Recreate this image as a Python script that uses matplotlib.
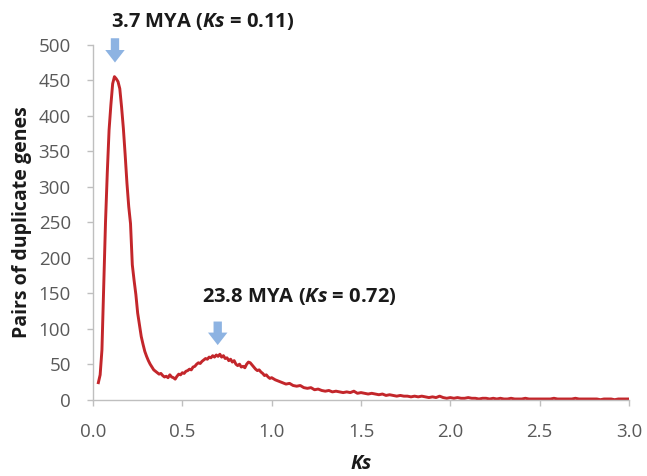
import numpy as np
import matplotlib
matplotlib.use("Agg")
import matplotlib.pyplot as plt

plt.rcParams['font.family'] = ['Open Sans', 'DejaVu Sans']
plt.rcParams['mathtext.fontset'] = 'custom'
plt.rcParams['mathtext.it'] = 'Open Sans:bold:italic'
plt.rcParams['mathtext.rm'] = 'Open Sans:bold'

# Ks grid (fine part 0.03-1.00 step 0.01, coarse part 1.02-3.00 step 0.02)
ks_fine = np.round(np.arange(0.03, 1.001, 0.01), 2)
pairs_fine = [24, 35, 70, 160, 250, 320, 380, 415, 445, 455,
              452, 448, 438, 412, 382, 345, 305, 272, 248, 190,
              168, 148, 122, 106, 89, 78, 68, 61, 55, 50,
              46, 42, 40, 38, 36, 37, 34, 32, 33, 31,
              35, 32, 31, 29, 33, 36, 35, 38, 37, 40,
              41, 43, 42, 46, 47, 50, 52, 51, 54, 56,
              58, 57, 60, 59, 62, 60, 63, 61, 64, 60,
              62, 58, 59, 55, 57, 53, 55, 50, 48, 50,
              46, 47, 45, 50, 53, 52, 49, 46, 43, 41,
              42, 39, 37, 34, 35, 32, 30, 31]
ks_coarse = np.round(np.arange(1.02, 3.001, 0.02), 2)
pairs_coarse = [28, 26, 24, 22, 23, 20, 19, 20, 17, 16,
                17, 14, 15, 13, 12, 13, 11, 12, 11, 10,
                11, 10, 12, 9, 10, 9, 8, 9, 8, 7,
                8, 6, 7, 6, 5, 6, 5, 5, 4, 5,
                4, 5, 4, 3, 4, 3, 5, 3, 2, 3,
                2, 3, 2, 2, 3, 2, 2, 1, 2, 2,
                1, 2, 1, 2, 1, 1, 2, 1, 1, 1,
                2, 1, 1, 1, 1, 1, 1, 1, 2, 1,
                1, 1, 1, 1, 2, 1, 1, 1, 1, 1,
                1, 0, 1, 1, 1, 0, 1, 1, 1, 1]
ks = np.concatenate([ks_fine, ks_coarse])
pairs = np.array(pairs_fine + pairs_coarse)

x_ticks = [0.0, 0.5, 1.0, 1.5, 2.0, 2.5, 3.0]
y_ticks = [0, 50, 100, 150, 200, 250, 300, 350, 400, 450, 500]

fig = plt.figure(figsize=(6.47, 4.76), dpi=100)
ax = fig.add_axes([93/647, 1-399.7/476, (629-93)/647, (399.7-44.7)/476])

ax.plot(ks, pairs, color='#c3262b', lw=2.1, solid_joinstyle='round')

ax.set_xlim(0, 3.0)
ax.set_ylim(0, 500)
ax.set_xticks(x_ticks)
ax.set_xticklabels([f"{v:.1f}" for v in x_ticks])
ax.set_yticks(y_ticks)
for s in ['top', 'right']:
    ax.spines[s].set_visible(False)
for s in ['left', 'bottom']:
    ax.spines[s].set_color('#bfbfbf')
    ax.spines[s].set_linewidth(1.0)
ax.tick_params(axis='both', colors='#bfbfbf', labelcolor='#595959',
               labelsize=13.5, length=4, width=1.0, direction='out')
ax.tick_params(axis='y', pad=12)
ax.tick_params(axis='x', pad=12.5)

ax.set_ylabel('Pairs of duplicate genes', fontsize=14, fontweight='bold',
              color='#1a1a1a', labelpad=5)
ax.set_xlabel(r'$\it{Ks}$', fontsize=14, color='#1a1a1a', labelpad=10)

arrow_color = '#8db3e2'
arrow_style = 'simple,head_width=1.4,head_length=0.9,tail_width=0.6'
ax.annotate('', xy=(0.123, 471), xytext=(0.123, 513),
            arrowprops=dict(arrowstyle=arrow_style, color=arrow_color, lw=0,
                            mutation_scale=10),
            annotation_clip=False)
ax.annotate('', xy=(0.698, 73), xytext=(0.698, 114),
            arrowprops=dict(arrowstyle=arrow_style, color=arrow_color, lw=0,
                            mutation_scale=10),
            annotation_clip=False)

ax.text(0.098, 533, r'3.7 MYA ($\it{Ks}$ = 0.11)', fontsize=14.5, fontweight='bold',
        color='#1a1a1a', ha='left', va='center', clip_on=False)
ax.text(0.608, 145, r'23.8 MYA ($\it{Ks}$ = 0.72)', fontsize=14.5, fontweight='bold',
        color='#1a1a1a', ha='left', va='center', clip_on=False)

fig.savefig('out.png', dpi=100)
